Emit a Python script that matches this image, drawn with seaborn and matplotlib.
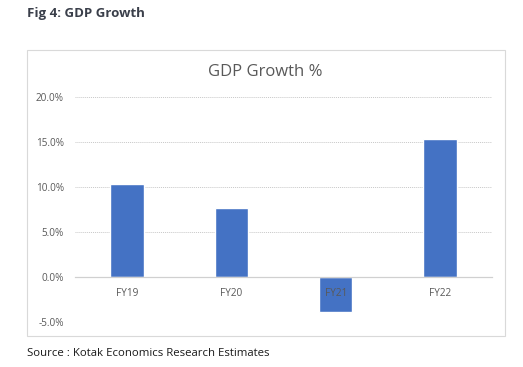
import matplotlib
matplotlib.use("Agg")
import matplotlib.pyplot as plt
import matplotlib.patches as mpatches
from matplotlib.ticker import FuncFormatter, MultipleLocator
import seaborn as sns
import pandas as pd

years = ["FY19", "FY20", "FY21", "FY22"]
growth = [10.3, 7.7, -3.9, 15.3]

sns.set_style("white")
plt.rcParams['font.family'] = ['Open Sans', 'DejaVu Sans']

W, H = 523, 367
fig = plt.figure(figsize=(W / 100, H / 100), dpi=100, facecolor='white')

# chart frame
fig.patches.append(mpatches.Rectangle(
    (27 / W, 1 - 336 / H), (505 - 27) / W, (336 - 50) / H,
    transform=fig.transFigure, fill=False, edgecolor='#d9d9d9', linewidth=0.8))

ax = fig.add_axes([75 / W, 1 - 322 / H, (492 - 75) / W, (322 - 97) / H])
df = pd.DataFrame({"year": years, "growth": growth})
sns.barplot(data=df, x="year", y="growth", color="#4472C4", width=0.32,
            saturation=1, ax=ax, zorder=1)

ax.set_ylim(-5, 20)
ax.set_xlim(-0.5, len(years) - 0.5)
ax.yaxis.set_major_locator(MultipleLocator(5))
ax.yaxis.set_major_formatter(FuncFormatter(lambda v, p: "{:.1f}%".format(v)))

# gridlines behind the bars, axis labels on top (FY21 label sits over its bar)
for v in ax.get_yticks():
    if v != 0:
        ax.axhline(v, color='#c8c8c8', linestyle=(0, (1, 1)), linewidth=0.7,
                   zorder=0)
ax.set_axisbelow(False)
for s in ['top', 'right', 'left']:
    ax.spines[s].set_visible(False)
ax.spines['bottom'].set_position(('data', 0))
ax.spines['bottom'].set_color('#d0d0d0')
ax.spines['bottom'].set_linewidth(0.9)
ax.tick_params(axis='both', length=0, labelsize=7.2, labelcolor='#595959')
ax.tick_params(axis='x', pad=8)
ax.tick_params(axis='y', pad=8)
ax.set_xlabel("")
ax.set_ylabel("")

fig.text(265 / W, 1 - 72 / H, "GDP Growth %", ha='center', va='center',
         fontsize=12, color='#595959')
fig.text(27 / W, 1 - 14 / H, "Fig 4: GDP Growth", ha='left', va='center',
         fontsize=9.5, fontweight='bold', color='#3a3f4a')
fig.text(27 / W, 1 - 354 / H, "Source : Kotak Economics Research Estimates",
         ha='left', va='center', fontsize=8.2, color='#1a1a1a')

fig.savefig("out.png", dpi=100, facecolor='white')
